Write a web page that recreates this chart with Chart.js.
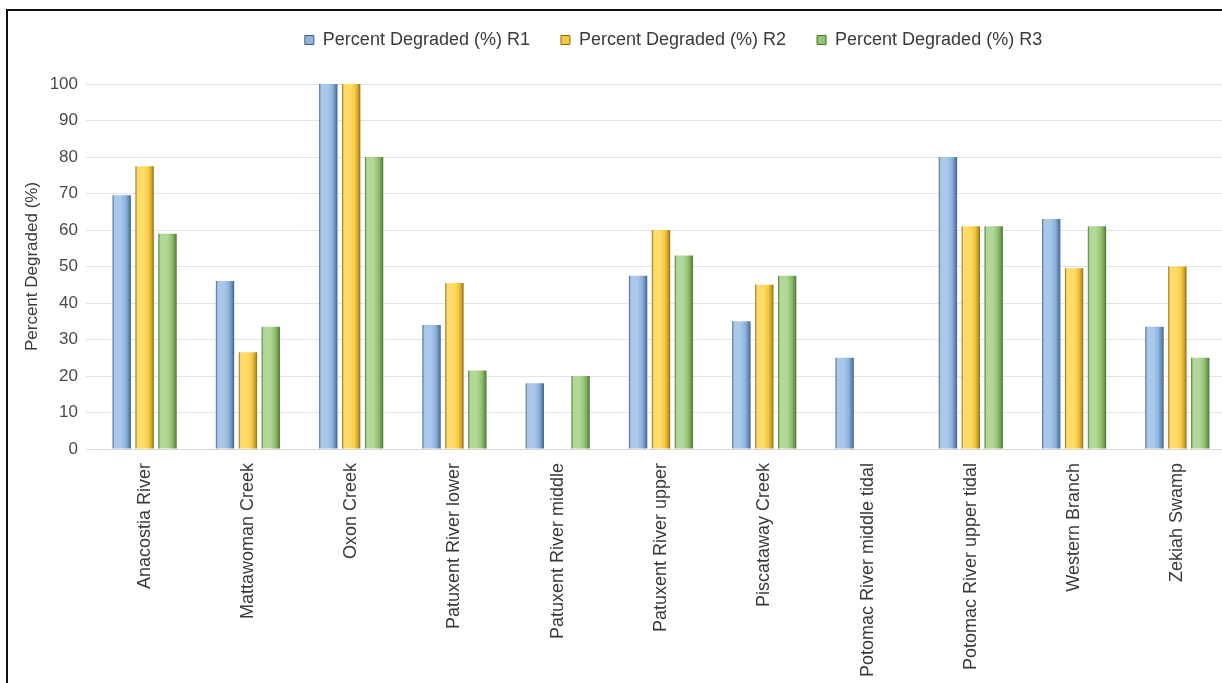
<!DOCTYPE html>
<html>
<head>
<meta charset="utf-8">
<title>Percent Degraded by Watershed</title>
<script src="https://cdn.jsdelivr.net/npm/chart.js@4.4.1/dist/chart.umd.min.js"></script>
<style>
  html, body { margin: 0; padding: 0; background: #ffffff; }
  #wrap { position: relative; width: 1222px; height: 683px; overflow: hidden; background: #ffffff; }
  #chart { position: absolute; left: 0; top: 0; }
  #frame {
    position: absolute; left: 6px; top: 9px; width: 1400px; height: 800px;
    border-top: 2px solid #111111; border-left: 2px solid #111111;
    pointer-events: none;
  }
</style>
</head>
<body>
<div id="wrap">
  <canvas id="chart" width="1232" height="683"></canvas>
  <div id="frame"></div>
</div>
<script>
// Watersheds along the x axis
const categories = [
  'Anacostia River', 'Mattawoman Creek', 'Oxon Creek', 'Patuxent River lower',
  'Patuxent River middle', 'Patuxent River upper', 'Piscataway Creek',
  'Potomac River middle tidal', 'Potomac River upper tidal', 'Western Branch', 'Zekiah Swamp'
];

// Percent degraded per round (null = no bar)
const r1Values = [69.5, 46, 100, 34, 18, 47.5, 35, 25, 80, 63, 33.5];
const r2Values = [77.5, 26.5, 100, 45.5, null, 60, 45, null, 61, 49.5, 50];
const r3Values = [59, 33.5, 80, 21.5, 20, 53, 47.5, null, 61, 61, 25];

const seriesNames = ['Percent Degraded (%) R1', 'Percent Degraded (%) R2', 'Percent Degraded (%) R3'];
const yTickValues = [0, 10, 20, 30, 40, 50, 60, 70, 80, 90, 100];

// Shading for the rounded-looking bars: dark rim, light face, darker right side
const palettes = [
  { edge: '#3f5f86', light: '#a9c8ea', mid: '#8db2dc', shade: '#5f84b2' },
  { edge: '#8a6814', light: '#ffdc6a', mid: '#f5c842', shade: '#c79a22' },
  { edge: '#4a6e32', light: '#b2d897', mid: '#93c273', shade: '#6b9a4c' }
];

const CAT_PCT = 0.665;
const BAR_PCT = 0.8;
const FONT = "'Liberation Sans', Arial, sans-serif";

function barFill(p) {
  return (ctx) => {
    const chart = ctx.chart;
    const xs = chart.scales && chart.scales.x;
    if (ctx.type !== 'data' || !xs || !xs.width) return p.mid;
    const catW = xs.width / categories.length;
    const slot = catW * CAT_PCT / 3;
    const barW = slot * BAR_PCT;
    const center = xs.getPixelForValue(ctx.dataIndex) + (ctx.datasetIndex - 1) * slot;
    const left = center - barW / 2;
    const g = chart.ctx.createLinearGradient(left, 0, left + barW, 0);
    g.addColorStop(0, p.edge);
    g.addColorStop(0.1, p.light);
    g.addColorStop(0.45, p.light);
    g.addColorStop(0.72, p.mid);
    g.addColorStop(0.9, p.shade);
    g.addColorStop(1, p.edge);
    return g;
  };
}

const datasets = [r1Values, r2Values, r3Values].map((vals, i) => ({
  label: seriesNames[i],
  data: vals,
  backgroundColor: barFill(palettes[i]),
  borderWidth: 0,
  categoryPercentage: CAT_PCT,
  barPercentage: BAR_PCT
}));

// Legend sits in a fixed-height band and is nudged right of centre
const legendBand = {
  id: 'legendBand',
  beforeLayout(chart) {
    const lg = chart.legend;
    if (lg && !lg.__bandFit) {
      const fit = lg.fit.bind(lg);
      lg.fit = function () { fit(); this.height = 84; };
      lg.__bandFit = true;
    }
  },
  afterLayout(chart) {
    if (chart.legend) chart.legend.left += 106;
  }
};

new Chart(document.getElementById('chart'), {
  type: 'bar',
  data: { labels: categories, datasets },
  options: {
    responsive: false,
    animation: false,
    devicePixelRatio: 1,
    layout: { padding: { top: 0, left: 12, right: 3, bottom: 0 } },
    plugins: {
      tooltip: { enabled: false },
      legend: {
        position: 'top',
        align: 'center',
        labels: {
          boxWidth: 9,
          boxHeight: 9,
          padding: 31,
          color: '#3a3a3a',
          font: { family: FONT, size: 18 },
          generateLabels: (chart) => chart.data.datasets.map((ds, i) => ({
            text: ds.label,
            fillStyle: palettes[i].mid,
            strokeStyle: palettes[i].edge,
            lineWidth: 1,
            fontColor: '#3a3a3a',
            hidden: false,
            datasetIndex: i
          }))
        }
      }
    },
    scales: {
      x: {
        grid: { display: false },
        border: { display: true, color: '#d6d6d6', width: 1 },
        ticks: {
          autoSkip: false,
          minRotation: 90,
          maxRotation: 90,
          padding: 6,
          color: '#3a3a3a',
          font: { family: FONT, size: 18 }
        },
        afterFit(scale) { scale.height = 234; }
      },
      y: {
        min: 0,
        max: 100,
        afterBuildTicks(scale) { scale.ticks = yTickValues.map(v => ({ value: v })); },
        grid: { color: '#e4e4e4', lineWidth: 1, drawTicks: true, tickLength: 7 },
        border: { display: false },
        ticks: {
          padding: 8,
          color: '#4a4a4a',
          font: { family: FONT, size: 17 }
        },
        title: {
          display: true,
          text: 'Percent Degraded (%)',
          color: '#3a3a3a',
          font: { family: FONT, size: 17 },
          padding: { top: 10, bottom: 0 }
        },
        afterFit(scale) { scale.width = 81; }
      }
    }
  },
  plugins: [legendBand]
});
</script>
</body>
</html>
